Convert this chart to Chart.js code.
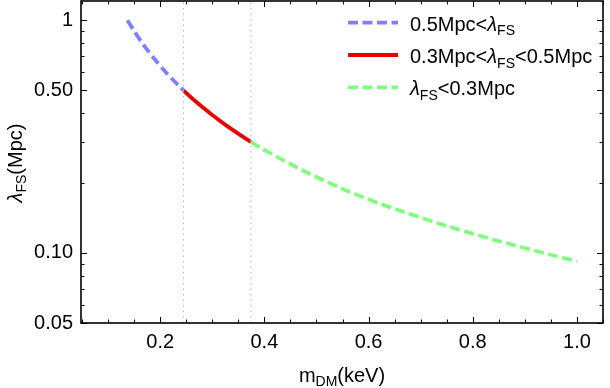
<!DOCTYPE html>
<html><head><meta charset="utf-8">
<script src="https://cdn.jsdelivr.net/npm/chart.js@4/dist/chart.umd.min.js"></script>
<style>html,body{margin:0;padding:0;background:#fff}#wrap{width:610px;height:388px;position:relative}</style>
</head><body><div id="wrap"><canvas id="c" width="610" height="388"></canvas></div>
<script>
// Data
const mBlue   = [0.137, 0.16, 0.18, 0.20, 0.22, 0.2447];
const lamBlue = [1.00, 0.832, 0.723, 0.637, 0.568, 0.50];
const mRed    = [0.2447, 0.27, 0.30, 0.33, 0.374];
const lamRed  = [0.50, 0.444, 0.392, 0.349, 0.30];
const mGreen  = [0.374, 0.40, 0.50, 0.60, 0.70, 0.80, 0.90, 1.00];
const lamGreen= [0.30, 0.277, 0.212, 0.170, 0.142, 0.121, 0.105, 0.092];
const boundaries = [0.2447, 0.374];
const xTicks = [0.2, 0.4, 0.6, 0.8, 1.0];
const yTicks = [0.05, 0.10, 0.50, 1];
const yTickLabels = ["0.05", "0.10", "0.50", "1"];
const yMinor = [0.06,0.07,0.08,0.09,0.2,0.3,0.4,0.6,0.7,0.8,0.9];
const xMinor = [0.05,0.1,0.15,0.25,0.3,0.35,0.45,0.5,0.55,0.65,0.7,0.75,0.85,0.9,0.95,1.05];
const legendItems = [
  {parts:[["0.5Mpc<",0],["λ",2],["FS",1]], color:"rgb(128,128,255)", dash:[10,4.5]},
  {parts:[["0.3Mpc<",0],["λ",2],["FS",1],["<0.5Mpc",0]], color:"rgb(230,0,0)", dash:[]},
  {parts:[["λ",2],["FS",1],["<0.3Mpc",0]], color:"rgb(128,255,128)", dash:[10,4.5]}
];

const X_MIN = 0.048, X_MAX = 1.05, Y_MIN = 0.05, Y_MAX = 1.21;
const FONT = "'Liberation Sans', Arial, sans-serif";
const FS = 20, SUB = 14;

const pts = (xs, ys) => xs.map((x, i) => ({x, y: ys[i]}));

const vlines = boundaries.map(b => ({
  data: [{x:b, y:Y_MIN}, {x:b, y:Y_MAX}],
  borderColor: "rgb(190,190,190)", borderWidth: 1.2, borderDash:[1.5,4],
  pointRadius: 0, fill:false
}));

function fontFor(kind) {
  return (kind === 1 ? SUB + "px " : (kind === 2 ? "italic " + FS + "px " : FS + "px ")) + FONT;
}
function widthOf(ctx, parts) {
  let w = 0;
  for (const [t,k] of parts) { ctx.font = fontFor(k); w += ctx.measureText(t).width; }
  return w;
}
function drawText(ctx, parts, x, y) {
  let cx = x;
  for (const [t, kind] of parts) {
    ctx.font = fontFor(kind);
    ctx.fillText(t, cx, kind === 1 ? y + 4.5 : y);
    cx += ctx.measureText(t).width;
  }
}

const framePlugin = {
  id: "frame",
  afterDraw(chart) {
    const ctx = chart.ctx, a = chart.chartArea;
    const xs = chart.scales.x, ys = chart.scales.y;
    ctx.save();
    ctx.strokeStyle = "#000"; ctx.lineWidth = 1.6;
    ctx.strokeRect(a.left, a.top, a.right - a.left, a.bottom - a.top);
    ctx.lineWidth = 1;
    ctx.beginPath();
    const tick = (v, len, horiz) => {
      if (horiz) {
        const p = Math.round(xs.getPixelForValue(v)) + 0.5;
        ctx.moveTo(p, a.bottom); ctx.lineTo(p, a.bottom - len);
        ctx.moveTo(p, a.top); ctx.lineTo(p, a.top + len);
      } else {
        const p = Math.round(ys.getPixelForValue(v)) + 0.5;
        ctx.moveTo(a.left, p); ctx.lineTo(a.left + len, p);
        ctx.moveTo(a.right, p); ctx.lineTo(a.right - len, p);
      }
    };
    xTicks.forEach(v => tick(v, 6, true));
    xMinor.forEach(v => tick(v, 3.5, true));
    yTicks.forEach(v => tick(v, 6, false));
    yMinor.forEach(v => tick(v, 3.5, false));
    ctx.stroke();

    // legend
    ctx.fillStyle = "#000"; ctx.textBaseline = "alphabetic"; ctx.textAlign = "left";
    const rows = [22.7, 55, 87.3];
    legendItems.forEach((it, i) => {
      const y = rows[i];
      ctx.beginPath();
      ctx.strokeStyle = it.color; ctx.lineWidth = 3.8; ctx.setLineDash(it.dash);
      ctx.moveTo(348, y); ctx.lineTo(398, y); ctx.stroke();
      ctx.setLineDash([]);
      drawText(ctx, it.parts, 410, y + 8);
    });

    // axis titles
    ctx.fillStyle = "#000";
    const xt = [["m",0],["DM",1],["(keV)",0]];
    let w = widthOf(ctx, xt);
    drawText(ctx, xt, (a.left + a.right)/2 - w/2, 381.5);
    ctx.save();
    ctx.translate(21.5, (a.top + a.bottom)/2 + 1);
    ctx.rotate(-Math.PI/2);
    const yt = [["λ",2],["FS",1],["(Mpc)",0]];
    w = widthOf(ctx, yt);
    drawText(ctx, yt, -w/2, 0);
    ctx.restore();
    ctx.restore();
  }
};

new Chart(document.getElementById("c"), {
  type: "line",
  data: {
    datasets: [
      ...vlines,
      {data: pts(mBlue, lamBlue), borderColor:"rgb(128,128,255)", borderWidth:3.8, borderDash:[10,4.5], pointRadius:0, tension:0.4, fill:false},
      {data: pts(mRed, lamRed), borderColor:"rgb(230,0,0)", borderWidth:3.8, pointRadius:0, tension:0.4, fill:false},
      {data: pts(mGreen, lamGreen), borderColor:"rgb(128,255,128)", borderWidth:3.8, borderDash:[10,4.5], pointRadius:0, tension:0.4, fill:false}
    ]
  },
  options: {
    responsive:false, animation:false, devicePixelRatio:1,
    layout:{padding:{top:1, right:7, left:0, bottom:0}},
    plugins:{legend:{display:false}, tooltip:{enabled:false}},
    scales:{
      x:{type:"linear", min:X_MIN, max:X_MAX,
        grid:{display:false, drawTicks:false}, border:{display:false},
        afterBuildTicks: s => { s.ticks = xTicks.map(v => ({value:v})); },
        afterFit: s => { s.height = 65; s.paddingLeft = 0; s.paddingRight = 0; },
        ticks:{color:"#000", font:{size:FS, family:FONT}, padding:7, maxRotation:0,
          callback: v => Number(v).toFixed(1)}
      },
      y:{type:"logarithmic", min:Y_MIN, max:Y_MAX,
        grid:{display:false, drawTicks:false}, border:{display:false},
        afterBuildTicks: s => { s.ticks = yTicks.map(v => ({value:v})); },
        afterFit: s => { s.width = 81; s.paddingTop = 0; s.paddingBottom = 0; },
        ticks:{color:"#000", font:{size:FS, family:FONT}, padding:8,
          callback: (v) => { const i = yTicks.indexOf(v); return i >= 0 ? yTickLabels[i] : ""; }}
      }
    }
  },
  plugins:[framePlugin]
});
</script></body></html>
